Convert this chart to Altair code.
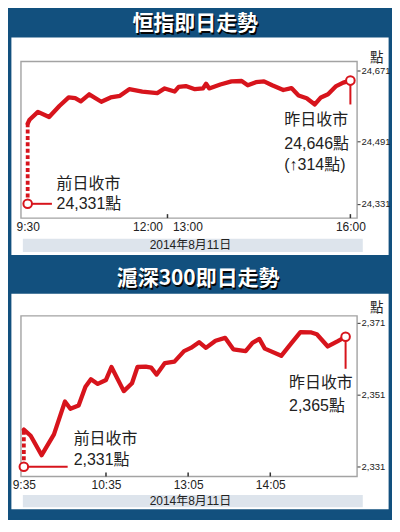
import altair as alt
import pandas as pd

# ---------------- data ----------------
# Hang Seng Index, 2014-08-11; t = trading minutes since 9:30 (lunch break removed)
hsi_t = [0, 2, 11, 23, 34, 44, 51, 57, 66, 79, 89, 99, 109, 123, 139, 147, 157, 161, 168, 177,
         185, 188, 191, 202, 213, 223, 229, 237, 245, 253, 264, 272, 279, 287, 295, 301, 308, 316, 323, 330]
hsi_v = [24536, 24546, 24566, 24553, 24581, 24603, 24601, 24593, 24611, 24592, 24603, 24607, 24624, 24618,
         24614, 24626, 24618, 24630, 24632, 24624, 24626, 24638, 24626, 24636, 24644, 24645, 24634, 24642,
         24644, 24634, 24622, 24627, 24608, 24601, 24585, 24603, 24611, 24632, 24641, 24646]
hsi_prev_close = 24331
hsi_drop_to = 24585
hsi_conn_to = 26
hsi_x_ticks = [0, 150, 330]
hsi_x_labels = ["9:30", "12:00\u00a0\u00a0\u00a013:00", "16:00"]
hsi_inner_ticks = [150, 330]
hsi_y_ticks = [24331, 24491, 24671]
hsi_ann_t = [31, 31, 265, 265, 265]
hsi_ann_v = [24382, 24331, 24546, 24485, 24431]
hsi_ann_text = ["前日收市", "24,331點", "昨日收市", "24,646點", "(↑314點)"]

# CSI 300; t = trading minutes since 9:35 (lunch break removed)
csi_t = [0, 5, 13, 22, 30, 34, 40, 45, 49, 54, 60, 64, 73, 79, 83, 89, 93, 97, 103, 110,
         117, 122, 128, 133, 140, 147, 153, 162, 167, 172, 176, 188, 195, 202, 210, 214, 222, 229, 235]
csi_v = [2341.3, 2339.6, 2334.2, 2340.0, 2349.1, 2347.1, 2348.0, 2353.2, 2355.3, 2354.0, 2355.1, 2358.7,
         2352.0, 2354.2, 2358.7, 2358.8, 2358.5, 2356.6, 2359.8, 2360.2, 2363.1, 2364.0, 2365.6, 2364.0,
         2366.0, 2366.8, 2363.6, 2363.1, 2365.4, 2366.5, 2363.8, 2361.8, 2365.1, 2368.4, 2368.3, 2367.8,
         2364.4, 2365.8, 2367.1]
csi_prev_close = 2331
csi_drop_to = 2358.2
csi_conn_to = 32
csi_x_ticks = [0, 60, 120, 180]
csi_x_labels = ["9:35", "10:35", "13:05", "14:05"]
csi_inner_ticks = [60, 120, 180]
csi_y_ticks = [2331, 2351, 2371]
csi_ann_t = [36.4, 36.4, 193.7, 193.7]
csi_ann_v = [2338.8, 2333.0, 2354.2, 2347.8]
csi_ann_text = ["前日收市", "2,331點", "昨日收市", "2,365點"]

titles = ["恒指即日走勢", "滬深300即日走勢"]
date_text = "2014年8月11日"
unit_text = "點"

# ---------------- styling ----------------
BLUE = "#12507e"
RED = "#d7141c"
BAND = "#dde4ec"
BOX = "#a3a3a3"
INK = "#222222"
LATIN = "Liberation Sans Narrow, Liberation Sans, Noto Sans CJK TC, sans-serif"
CJK = "Noto Sans CJK TC, Noto Sans CJK SC, sans-serif"

W = 337
one = pd.DataFrame({"k": [0]})


def label_expr(vals, labels):
    expr = "''"
    for v, l in reversed(list(zip(vals, labels))):
        expr = f"datum.value == {v} ? '{l}' : {expr}"
    return expr


def panel(title, t, v, prev, drop_to, conn_to, x_scale, y_scale, x_ticks, x_labels, inner_ticks,
          y_ticks, ann_t, ann_v, ann_text, H, span, white, head_xy, unit_y, band_y, date_y):
    xaxis = alt.Axis(values=x_ticks, labelExpr=label_expr(x_ticks, x_labels), ticks=False, tickSize=0,
                     domain=False, grid=False, labelFont=LATIN, labelFontSize=12, labelColor=INK,
                     labelPadding=3, title=None, zindex=1, labelFlush=False, labelOverlap=False)
    yaxis = alt.Axis(orient="right", values=y_ticks, labelExpr="format(datum.value, ',')",
                     domain=False, grid=False, ticks=True,
                     tickSize=3, tickColor="#333333", tickWidth=1, labelFont=LATIN, labelFontSize=9.5,
                     labelPadding=1, labelColor=INK, title=None, zindex=1, labelFlush=False)
    X = alt.X("t:Q", scale=x_scale, axis=xaxis)
    Y = alt.Y("v:Q", scale=y_scale, axis=yaxis)

    df = pd.DataFrame({"t": t, "v": v})
    n = len(t)

    span_rect = alt.Chart(one).mark_rect(color=BLUE).encode(
        x=alt.value(span[0]), x2=alt.value(span[1]), y=alt.value(span[2]), y2=alt.value(span[3]))
    white_rect = alt.Chart(one).mark_rect(color="white").encode(
        x=alt.value(white[0]), x2=alt.value(white[1]), y=alt.value(white[2]), y2=alt.value(white[3]))
    band_rect = alt.Chart(one).mark_rect(color=BAND).encode(
        x=alt.value(1.9), x2=alt.value(W + 5.7), y=alt.value(band_y[0]), y2=alt.value(band_y[1]))
    box = alt.Chart(one).mark_rect(fillOpacity=0, stroke=BOX, strokeWidth=1.4).encode(
        x=alt.value(0), x2=alt.value(W), y=alt.value(0), y2=alt.value(H))
    ticks = alt.Chart(pd.DataFrame({"t": inner_ticks})).mark_rule(color="#333333", strokeWidth=1.5).encode(
        x=X, y=alt.value(H), y2=alt.value(H - 4))
    head_shadow = alt.Chart(one).mark_text(font=CJK, fontSize=21, fontWeight="bold", color="#050505",
                                           align="center", baseline="middle", dx=1.3, dy=1.3).encode(
        x=alt.value(head_xy[0]), y=alt.value(head_xy[1]), text=alt.value(title))
    head = alt.Chart(one).mark_text(font=CJK, fontSize=21, fontWeight="bold", color="white",
                                    align="center", baseline="middle").encode(
        x=alt.value(head_xy[0]), y=alt.value(head_xy[1]), text=alt.value(title))
    unit = alt.Chart(one).mark_text(font=CJK, fontSize=13.5, color=INK, align="center",
                                    baseline="middle").encode(
        x=alt.value(W + 19.6), y=alt.value(unit_y), text=alt.value(unit_text))
    date = alt.Chart(one).mark_text(font=LATIN, fontSize=12, color=INK, align="center",
                                    baseline="middle").encode(
        x=alt.value(169.9), y=alt.value(date_y), text=alt.value(date_text))

    dotted = alt.Chart(pd.DataFrame({"t": [t[0]], "v": [prev], "v2": [v[0]]})).mark_rule(
        color=RED, strokeWidth=3.8, strokeDash=[4, 2.4]).encode(x=X, y=Y, y2="v2:Q")
    line = alt.Chart(df).mark_line(color=RED, strokeWidth=4.3, strokeJoin="round", strokeCap="round").encode(
        x=X, y=Y)
    hconn = alt.Chart(pd.DataFrame({"t": [t[0]], "t2": [conn_to], "v": [prev]})).mark_rule(
        color=RED, strokeWidth=2).encode(x=X, x2="t2:Q", y=Y)
    vconn = alt.Chart(pd.DataFrame({"t": [t[-1]], "v": [v[-1]], "v2": [drop_to]})).mark_rule(
        color=RED, strokeWidth=2).encode(x=X, y=Y, y2="v2:Q")
    circles = alt.Chart(pd.DataFrame({"t": [t[0], t[n - 1]], "v": [prev, v[n - 1]]})).mark_circle(
        fill="white", stroke=RED, strokeWidth=2, size=74, opacity=1).encode(x=X, y=Y)
    ann = alt.Chart(pd.DataFrame({"t": ann_t, "v": ann_v, "label": ann_text})).mark_text(
        font=LATIN, fontSize=16, color=INK, align="left", baseline="middle").encode(
        x=X, y=Y, text="label:N")

    return alt.layer(span_rect, white_rect, band_rect, box, ticks, head_shadow, head, unit, date,
                     dotted, line, hconn, vconn, circles, ann).properties(width=W, height=H)


H1 = 157
H2 = 161

top = panel(
    titles[0], hsi_t, hsi_v, hsi_prev_close, hsi_drop_to, hsi_conn_to,
    alt.Scale(domain=[-7.2, 150, 336.6], range=[0, 146.9, W], zero=False, nice=False),
    alt.Scale(domain=[24294.4, 24694.8], zero=False, nice=False),
    hsi_x_ticks, hsi_x_labels, hsi_inner_ticks, hsi_y_ticks,
    hsi_ann_t, hsi_ann_v, hsi_ann_text,
    H=H1, span=(-12.5, W + 34.5, -52.8, H1 + 37), white=(-9.6, W + 31.6, -24, H1 + 37),
    head_xy=(174.7, -37.4), unit_y=-3.8, band_y=(177.6, 191), date_y=184.3)

bottom = panel(
    titles[1], csi_t, csi_v, csi_prev_close, csi_drop_to, csi_conn_to,
    alt.Scale(domain=[-2.1, 243.4], zero=False, nice=False),
    alt.Scale(domain=[2328.3, 2372.9], zero=False, nice=False),
    csi_x_ticks, csi_x_labels, csi_inner_ticks, csi_y_ticks,
    csi_ann_t, csi_ann_v, csi_ann_text,
    H=H2, span=(-12.5, W + 34.5, -60.5, H2 + 42.5), white=(-9.6, W + 31.6, -22.1, 193.9),
    head_xy=(177.6, -36.5), unit_y=-7.7, band_y=(179.5, 192), date_y=185.8)

chart = alt.vconcat(top, bottom, spacing=0).properties(
    background=BLUE, padding=0
).configure_view(strokeWidth=0)

chart.save("out.html", embed_options={"renderer": "svg", "actions": False})
